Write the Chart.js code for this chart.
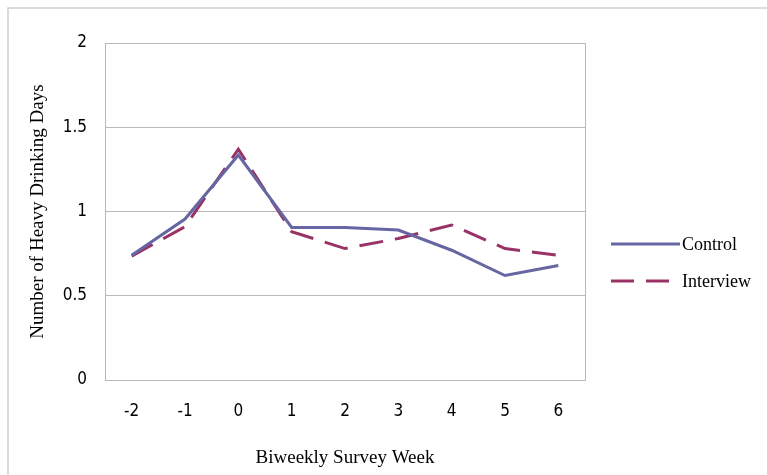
<!DOCTYPE html>
<html>
<head>
<meta charset="utf-8">
<script src="https://cdn.jsdelivr.net/npm/chart.js@4"></script>
<style>
html,body{margin:0;padding:0;background:#fff;}
#wrap{width:767px;height:475px;position:relative;}
</style>
</head>
<body>
<div id="wrap"><canvas id="c" width="767" height="475"></canvas></div>
<script>
const weeks = ['-2','-1','0','1','2','3','4','5','6'];
const control = [0.74, 0.955, 1.335, 0.905, 0.905, 0.89, 0.77, 0.62, 0.68];
const interview = [0.735, 0.91, 1.37, 0.88, 0.78, 0.84, 0.92, 0.78, 0.74];
const yTicks = [0, 0.5, 1, 1.5, 2];

const tickFont = {family: '"DejaVu Sans Condensed", "Liberation Sans Narrow", Arial', size: 17};
const serif = '"Liberation Serif", "Times New Roman", serif';

const framePlugin = {
  id: 'frame',
  beforeDraw(chart) {
    const ctx = chart.ctx;
    ctx.save();
    ctx.fillStyle = '#fff';
    ctx.fillRect(0, 0, chart.width, chart.height);
    ctx.strokeStyle = '#d0d0d0';
    ctx.lineWidth = 1.5;
    ctx.beginPath();
    ctx.moveTo(8, 480);
    ctx.lineTo(8, 8);
    ctx.lineTo(780, 8);
    ctx.stroke();
    ctx.restore();
  },
  afterDatasetsDraw(chart) {
    const ctx = chart.ctx;
    const a = chart.chartArea;
    ctx.save();
    ctx.strokeStyle = '#b8b8b8';
    ctx.lineWidth = 1;
    ctx.strokeRect(Math.round(a.left) + 0.5, Math.round(a.top) + 0.5, Math.round(a.right - a.left), Math.round(a.bottom - a.top));
    const items = chart.data.datasets;
    const ys = [244, 281];
    ctx.font = '18px ' + serif;
    ctx.textBaseline = 'middle';
    items.forEach((ds, i) => {
      const dashed = ds.borderDash && ds.borderDash.length;
      ctx.strokeStyle = ds.borderColor;
      ctx.lineWidth = 3;
      ctx.setLineDash(dashed ? [23, 12] : []);
      ctx.beginPath();
      ctx.moveTo(611, ys[i]);
      ctx.lineTo(dashed ? 669 : 680, ys[i]);
      ctx.stroke();
      ctx.setLineDash([]);
      ctx.fillStyle = '#000';
      ctx.fillText(ds.label, 682, ys[i] + 1);
    });
    ctx.restore();
  }
};

new Chart(document.getElementById('c'), {
  type: 'line',
  data: {
    labels: weeks,
    datasets: [
      {label: 'Control', data: control, borderColor: '#6666a3', borderWidth: 3, pointRadius: 0, tension: 0, fill: false},
      {label: 'Interview', data: interview, borderColor: '#993366', borderWidth: 3, borderDash: [24, 12], pointRadius: 0, tension: 0, fill: false}
    ]
  },
  options: {
    responsive: false,
    animation: false,
    devicePixelRatio: 1,
    layout: {padding: {left: 0, top: 43, right: 182, bottom: 0}},
    plugins: {legend: {display: false}, tooltip: {enabled: false}},
    scales: {
      x: {
        offset: true,
        grid: {display: false, drawTicks: false, offset: true},
        border: {display: false},
        ticks: {font: tickFont, color: '#000', padding: 21, maxRotation: 0},
        title: {display: true, text: 'Biweekly Survey Week', font: {family: serif, size: 19}, color: '#000', padding: {top: 0, bottom: 6}},
        afterFit(s) { s.height = 95; }
      },
      y: {
        min: 0, max: 2,
        afterBuildTicks(s) { s.ticks = yTicks.map(v => ({value: v})); },
        grid: {color: '#b8b8b8', drawTicks: false, lineWidth: 1},
        border: {display: false},
        ticks: {font: tickFont, color: '#000', padding: 18, callback: v => String(v)},
        title: {display: true, text: 'Number of Heavy Drinking Days', font: {family: serif, size: 19}, color: '#000', padding: {top: 27, bottom: 0}},
        afterFit(s) { s.width = 105; }
      }
    }
  },
  plugins: [framePlugin]
});
</script>
</body>
</html>
